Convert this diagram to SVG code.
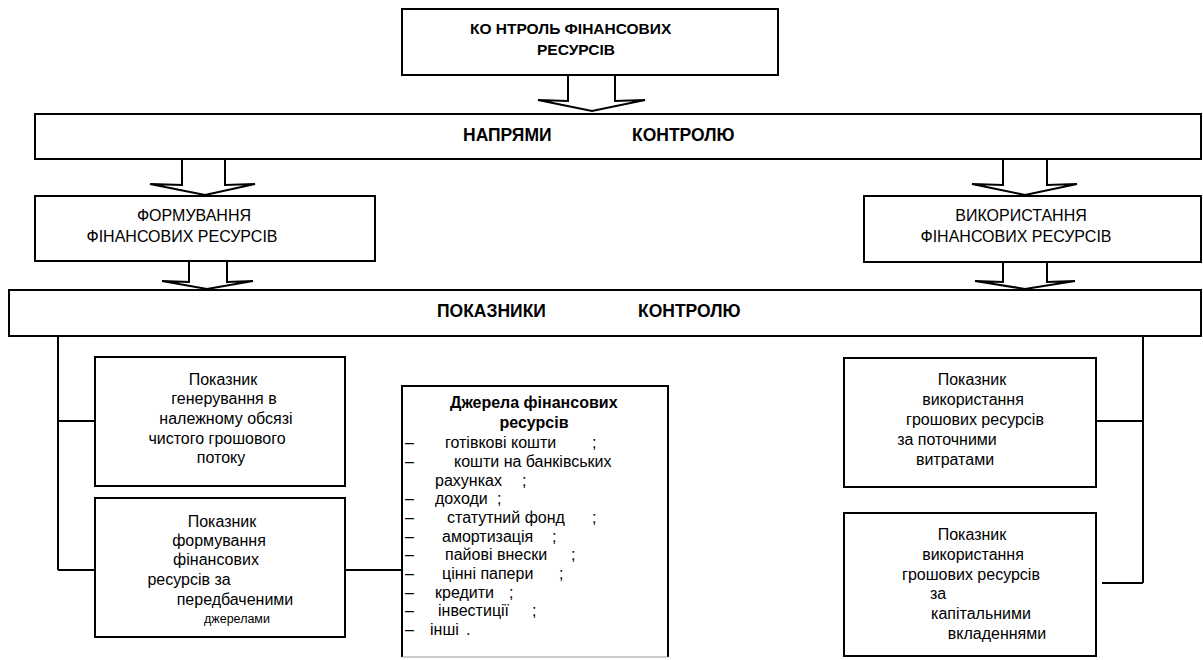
<svg xmlns="http://www.w3.org/2000/svg" width="1203" height="660" viewBox="0 0 1203 660">
<style>
  .box{fill:#fff;stroke:#000;stroke-width:2}
  .arr{fill:#fff;stroke:#000;stroke-width:2;stroke-linejoin:miter}
  .ln{fill:none;stroke:#000;stroke-width:2}
  text{font-family:"Liberation Sans",Arial,sans-serif;fill:#000}
  .t{font-size:16px}
  .c{text-anchor:middle}
  .b{font-weight:bold}
  .h{font-size:17.5px;font-weight:bold}
  .s{font-size:12.5px}
</style>
<rect width="1203" height="660" fill="#fff"/>

<g id="connectors">
  <polygon class="arr" points="568,75 568,101 538,100 592,111 645,100 615,101 615,75"/>
  <polygon class="arr" points="182,159 182,185 150,184 205,195 255,184 225,185 225,159"/>
  <polygon class="arr" points="189,261 189,282 162,281 207,289 253,281 227,282 227,261"/>
  <polygon class="arr" points="1003,159 1003,185 972,184 1025,195 1077,184 1047,185 1047,159"/>
  <polygon class="arr" points="1003,262 1003,282 975,281 1025,289 1075,281 1047,282 1047,262"/>
  <path class="ln" d="M58,336 V570 M58,421 H95 M58,570 H95 M345,570 H402"/>
  <path class="ln" d="M1143,336 V583 M1096,421 H1143 M1102,583 H1143"/>
</g>

<g id="top">
  <rect class="box" x="402" y="9" width="376" height="66"/>
  <text class="b" font-size="15.5" x="470" y="34">КО НТРОЛЬ ФІНАНСОВИХ</text>
  <text class="b c" font-size="15.5" x="576" y="55">РЕСУРСІВ</text>
</g>

<g id="directions">
  <rect class="box" x="35" y="114" width="1166" height="45"/>
  <text class="h" x="463" y="141">НАПРЯМИ</text>
  <text class="h" x="632" y="141">КОНТРОЛЮ</text>
</g>

<g id="formation">
  <rect class="box" x="35" y="196" width="340" height="65"/>
  <text class="t c" x="194" y="221">ФОРМУВАННЯ</text>
  <text class="t c" x="182" y="242">ФІНАНСОВИХ РЕСУРСІВ</text>
</g>

<g id="usage">
  <rect class="box" x="864" y="196" width="337" height="66"/>
  <text class="t c" x="1021" y="221">ВИКОРИСТАННЯ</text>
  <text class="t c" x="1016" y="242">ФІНАНСОВИХ РЕСУРСІВ</text>
</g>

<g id="indicators">
  <rect class="box" x="9" y="290" width="1192" height="46"/>
  <text class="h" x="437" y="317">ПОКАЗНИКИ</text>
  <text class="h" x="638" y="317">КОНТРОЛЮ</text>
</g>

<g id="ind-cashflow">
  <rect class="box" x="95" y="357" width="250" height="129"/>
  <text class="t c" x="223" y="385">Показник</text>
  <text class="t c" x="224" y="404">генерування в</text>
  <text class="t c" x="226" y="424">належному обсязі</text>
  <text class="t c" x="217" y="444">чистого грошового</text>
  <text class="t c" x="221" y="463">потоку</text>
</g>

<g id="ind-formation">
  <rect class="box" x="95" y="498" width="250" height="139"/>
  <text class="t c" x="222" y="527">Показник</text>
  <text class="t c" x="219" y="546">формування</text>
  <text class="t c" x="216" y="565">фінансових</text>
  <text class="t c" x="189" y="585">ресурсів за</text>
  <text class="t c" x="235" y="605">передбаченими</text>
  <text class="s c" x="237" y="623">джерелами</text>
</g>

<g id="sources">
  <path class="ln" d="M402,657 V386 H668 V657"/>
  <line x1="402" y1="657" x2="668" y2="657" stroke="#999" stroke-width="1"/>
  <text class="t b" x="450" y="408">Джерела фінансових</text>
  <text class="t b c" x="534" y="428">ресурсів</text>
  <g class="t">
    <text x="405" y="448">–</text><text x="445" y="448">готівкові кошти</text><text x="592" y="448">;</text>
    <text x="405" y="467">–</text><text x="454" y="467">кошти на банківських</text>
    <text x="435" y="486">рахунках</text><text x="522" y="486">;</text>
    <text x="405" y="504">–</text><text x="435" y="504">доходи</text><text x="497" y="504">;</text>
    <text x="405" y="523">–</text><text x="447" y="523">статутний фонд</text><text x="592" y="523">;</text>
    <text x="405" y="542">–</text><text x="442" y="542">амортизація</text><text x="552" y="542">;</text>
    <text x="405" y="560">–</text><text x="445" y="560">пайові внески</text><text x="571" y="560">;</text>
    <text x="405" y="579">–</text><text x="442" y="579">цінні папери</text><text x="559" y="579">;</text>
    <text x="405" y="598">–</text><text x="435" y="598">кредити</text><text x="509" y="598">;</text>
    <text x="405" y="616">–</text><text x="438" y="616">інвестиції</text><text x="532" y="616">;</text>
    <text x="405" y="635">–</text><text x="430" y="635">інші</text><text x="466" y="635">.</text>
  </g>
</g>

<g id="ind-current">
  <rect class="box" x="844" y="358" width="252" height="129"/>
  <text class="t c" x="972" y="385">Показник</text>
  <text class="t c" x="973" y="405">використання</text>
  <text class="t c" x="975" y="425">грошових ресурсів</text>
  <text class="t c" x="947" y="445">за поточними</text>
  <text class="t c" x="955" y="465">витратами</text>
</g>

<g id="ind-capital">
  <rect class="box" x="844" y="513" width="252" height="143"/>
  <text class="t c" x="972" y="540">Показник</text>
  <text class="t c" x="973" y="560">використання</text>
  <text class="t c" x="971" y="580">грошових ресурсів</text>
  <text class="t c" x="938" y="599">за</text>
  <text class="t c" x="981" y="619">капітальними</text>
  <text class="t c" x="997" y="639">вкладеннями</text>
</g>
</svg>
